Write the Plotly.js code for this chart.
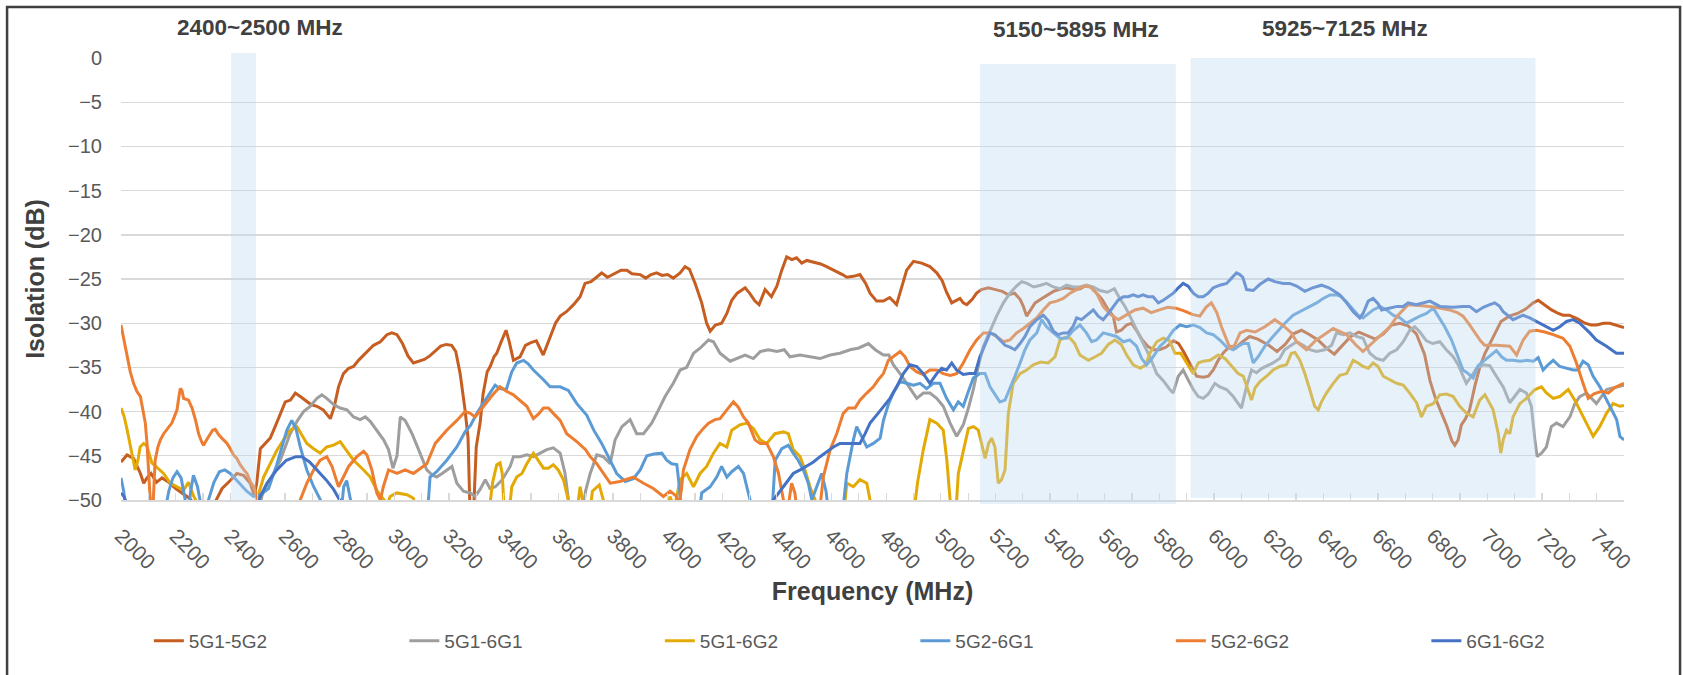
<!DOCTYPE html>
<html><head><meta charset="utf-8">
<script src="https://cdn.plot.ly/plotly-3.0.1.min.js"></script>
<style>html,body{margin:0;padding:0;background:#fff;overflow:hidden}#chart{width:1683px;height:675px}</style>
</head><body><div id="chart"></div>
<script>
// Series names (legend order)
const seriesNames = ["5G1-5G2","5G1-6G1","5G1-6G2","5G2-6G1","5G2-6G2","6G1-6G2"];
// Each series: [frequency MHz, isolation dB]
const s5G1_5G2 = [[2000,-45.7],[2022,-44.9],[2046,-45.3],[2060,-46.2],[2071,-47],[2083,-48.1],[2095,-47.5],[2110,-47],[2130,-48],[2150,-47.5],[2175,-48],[2200,-48.7],[2225,-49.2],[2250,-49.8],[2270,-50.5],[2300,-51],[2340,-50.5],[2370,-48.7],[2400,-47.8],[2424,-47],[2448,-47.2],[2473,-48.1],[2488,-49.5],[2497,-48],[2510,-44.2],[2528,-43.6],[2546,-43],[2564,-41.7],[2589,-39.8],[2601,-38.9],[2620,-38.7],[2638,-37.9],[2656,-38.3],[2674,-38.7],[2695,-39.2],[2717,-39.4],[2740,-39.8],[2766,-40.8],[2780,-39.5],[2796,-37.2],[2814,-35.7],[2833,-35.1],[2851,-34.9],[2869,-34.2],[2888,-33.6],[2906,-33],[2924,-32.5],[2949,-32.1],[2973,-31.3],[2991,-31.1],[3010,-31.3],[3030,-32.3],[3050,-33.7],[3070,-34.5],[3090,-34.3],[3110,-34.1],[3130,-33.7],[3150,-33.2],[3170,-32.6],[3190,-32.4],[3210,-32.5],[3225,-33.2],[3241,-35.7],[3259,-39.8],[3270,-43],[3276,-50],[3284,-56],[3292,-50],[3300,-44],[3314,-41.3],[3325,-38],[3340,-35.5],[3351,-34.9],[3365,-33.8],[3375,-33.4],[3390,-32.2],[3409,-30.8],[3420,-32],[3436,-34.2],[3460,-33.8],[3480,-32.5],[3500,-32.2],[3520,-32],[3545,-33.6],[3565,-32],[3590,-30],[3607,-29.2],[3630,-28.7],[3656,-27.9],[3680,-27],[3698,-25.5],[3720,-25.3],[3740,-24.8],[3759,-24.3],[3780,-24.8],[3800,-24.5],[3830,-24],[3851,-24],[3870,-24.4],[3900,-24.5],[3920,-24.9],[3940,-24.5],[3960,-24.3],[3980,-24.6],[4000,-24.5],[4021,-24.9],[4046,-24.3],[4064,-23.6],[4080,-23.9],[4101,-25.5],[4125,-27.7],[4143,-30],[4156,-30.9],[4175,-30.2],[4198,-30],[4217,-28.9],[4235,-27.4],[4255,-26.6],[4284,-26],[4300,-26.6],[4320,-27.5],[4335,-27.9],[4357,-26.2],[4380,-27],[4400,-25.8],[4418,-24],[4436,-22.5],[4455,-22.8],[4472,-22.6],[4491,-23.2],[4510,-22.9],[4535,-23.1],[4560,-23.3],[4582,-23.6],[4610,-24],[4640,-24.5],[4656,-24.8],[4680,-24.7],[4704,-24.5],[4725,-25.5],[4741,-26.6],[4765,-27.5],[4790,-27.5],[4813,-27.1],[4838,-27.9],[4855,-26],[4875,-24],[4900,-23],[4930,-23.2],[4960,-23.6],[4985,-24.3],[5005,-25.2],[5021,-26.5],[5040,-27.7],[5055,-27.4],[5070,-27.2],[5082,-27.7],[5095,-27.9],[5115,-27.3],[5131,-26.6],[5149,-26.2],[5174,-26],[5200,-26.2],[5225,-26.4],[5247,-26.8],[5270,-26.6],[5290,-27.3],[5302,-28.1],[5314,-29.2],[5330,-28.5],[5345,-27.7],[5370,-27.2],[5412,-26.4],[5440,-26.1],[5460,-26],[5490,-26.2],[5510,-26.1],[5533,-25.7],[5550,-25.9],[5570,-26.6],[5590,-27.3],[5613,-28.5],[5631,-29.2],[5643,-31],[5660,-30.8],[5680,-30.2],[5698,-30],[5716,-30.8],[5735,-31.8],[5757,-32.6],[5777,-33],[5800,-33],[5825,-32.7],[5851,-32],[5870,-32.3],[5888,-33.2],[5905,-34.2],[5924,-35.3],[5936,-36],[5960,-36.1],[5979,-36],[5997,-35.3],[6015,-34.2],[6035,-33.3],[6058,-32.6],[6080,-32.8],[6100,-32.2],[6130,-31.5],[6160,-31.8],[6200,-32.5],[6230,-33.2],[6260,-32.4],[6290,-31.2],[6320,-30.8],[6350,-31.3],[6380,-31.9],[6410,-32.8],[6440,-33.5],[6470,-32.5],[6500,-31.5],[6530,-31],[6560,-31.4],[6590,-31.8],[6620,-31.2],[6650,-30.2],[6680,-30],[6710,-30.3],[6740,-31.2],[6770,-33.5],[6790,-36.5],[6810,-38.5],[6830,-40],[6850,-41.5],[6870,-43.3],[6881,-43.8],[6893,-43.2],[6905,-41.5],[6920,-40.8],[6935,-39.8],[6955,-37],[6972,-35],[6990,-33.5],[7010,-32.3],[7030,-31],[7050,-29.8],[7080,-29.2],[7110,-28.9],[7140,-28.4],[7168,-27.7],[7186,-27.4],[7210,-27.9],[7235,-28.5],[7260,-28.9],[7277,-29.1],[7300,-29.1],[7330,-29.5],[7357,-30],[7380,-30.2],[7400,-30.2],[7425,-30],[7448,-30],[7470,-30.2],[7490,-30.4],[7500,-30.5]];
const s5G1_6G1 = [[2000,-56],[2480,-56],[2500,-52],[2516,-49.5],[2535,-48.2],[2558,-47],[2583,-45.5],[2601,-44],[2619,-42.5],[2644,-41.1],[2668,-40],[2692,-39.4],[2717,-38.5],[2735,-38.1],[2753,-38.5],[2778,-39.2],[2802,-39.6],[2827,-39.8],[2851,-40.6],[2875,-40.9],[2894,-40.6],[2912,-41.1],[2936,-42.1],[2961,-43.2],[2979,-44.3],[2995,-46.4],[3010,-45],[3022,-40.6],[3040,-41],[3065,-42.5],[3089,-44.3],[3119,-46.6],[3140,-47.2],[3155,-47.4],[3175,-47],[3192,-46.6],[3211,-46.2],[3229,-48.1],[3253,-49],[3278,-49.2],[3296,-49.6],[3314,-48.8],[3333,-47.7],[3350,-48.7],[3370,-48.5],[3395,-47.7],[3424,-46.2],[3436,-45.1],[3460,-45.1],[3485,-44.9],[3510,-45.1],[3534,-44.7],[3558,-44.3],[3582,-44.1],[3607,-44.7],[3625,-47],[3637,-49.6],[3650,-53],[3680,-53],[3700,-49],[3717,-47],[3741,-44.9],[3765,-45.1],[3790,-45.9],[3808,-43.2],[3833,-41.7],[3863,-40.9],[3887,-42.5],[3912,-42.5],[3942,-41.3],[3967,-39.8],[3991,-38.3],[4021,-36.8],[4046,-35.3],[4070,-35],[4095,-33.4],[4120,-32.8],[4150,-31.9],[4168,-32.1],[4192,-33.4],[4229,-34.3],[4255,-34],[4284,-33.6],[4314,-34],[4340,-33.2],[4369,-33],[4400,-33.2],[4427,-33],[4448,-33.8],[4485,-33.6],[4520,-33.8],[4558,-34],[4595,-33.6],[4631,-33.4],[4668,-33],[4700,-32.8],[4735,-32.3],[4760,-33],[4790,-33.6],[4810,-33.6],[4826,-34.7],[4851,-35.7],[4875,-36.8],[4912,-38.5],[4936,-37.9],[4960,-37.9],[4985,-38.5],[5009,-39.4],[5034,-41.3],[5058,-42.8],[5082,-41.5],[5101,-39.6],[5119,-37.5],[5137,-34.9],[5156,-32.6],[5180,-30.8],[5204,-29.2],[5229,-27.7],[5253,-26.6],[5277,-25.8],[5296,-25.3],[5315,-25.5],[5340,-25.9],[5365,-25.7],[5387,-25.5],[5412,-25.9],[5436,-26.1],[5460,-25.7],[5485,-25.9],[5510,-25.9],[5533,-25.7],[5558,-25.9],[5582,-26.3],[5610,-26.5],[5635,-26.1],[5655,-27.2],[5674,-28.1],[5692,-29.2],[5716,-30.7],[5741,-32.3],[5765,-33.8],[5790,-35.7],[5814,-36.5],[5838,-37.5],[5850,-37.9],[5869,-36],[5887,-35.3],[5905,-36.4],[5924,-37.5],[5942,-38.3],[5960,-38.5],[5979,-38],[6003,-36.8],[6021,-37.2],[6046,-37.5],[6070,-38.3],[6088,-39],[6100,-39.6],[6120,-37],[6137,-35.3],[6155,-35.6],[6175,-35.1],[6195,-34.8],[6216,-34.5],[6240,-34],[6258,-33],[6277,-32.6],[6302,-32.1],[6326,-32.5],[6350,-33],[6375,-33.2],[6405,-33],[6430,-32.5],[6448,-31.1],[6472,-31.3],[6497,-31.1],[6521,-31.5],[6545,-31.7],[6570,-33.4],[6594,-34],[6619,-34.2],[6643,-33.4],[6668,-33],[6692,-32.1],[6716,-30.8],[6734,-30.4],[6753,-31],[6777,-32],[6800,-32.3],[6826,-32.1],[6850,-33],[6875,-33.8],[6893,-34.7],[6911,-36],[6923,-36.8],[6942,-36],[6960,-35.1],[6985,-34.7],[7009,-34.8],[7033,-36],[7058,-37.2],[7082,-39],[7100,-38.3],[7119,-37.5],[7143,-37.9],[7161,-39.4],[7174,-43.2],[7182,-45.1],[7198,-44.7],[7216,-44],[7234,-41.7],[7253,-41.3],[7277,-41.7],[7302,-40.6],[7320,-39.1],[7338,-38.3],[7363,-37.9],[7399,-39.1],[7436,-37.5],[7472,-37.2],[7500,-37]];
const s5G1_6G2 = [[2000,-39.6],[2011,-40.5],[2022,-42],[2032,-43.5],[2040,-45],[2052,-46.6],[2062,-45.5],[2070,-44],[2083,-43.6],[2095,-43.9],[2113,-45.8],[2140,-46.6],[2156,-47],[2180,-48.1],[2205,-48.5],[2229,-48.9],[2247,-48],[2265,-49.5],[2290,-51],[2340,-53],[2400,-53],[2480,-52],[2497,-50],[2522,-47.4],[2546,-45.9],[2570,-44.4],[2595,-43.2],[2619,-42.1],[2644,-41.7],[2656,-42.3],[2680,-43.6],[2705,-44.2],[2729,-44.7],[2753,-44],[2778,-43.8],[2802,-43.4],[2820,-44.2],[2851,-45.5],[2888,-46.6],[2912,-47.4],[2936,-48.9],[2961,-50],[2975,-50.5],[2985,-49.6],[3009,-49.2],[3046,-49.4],[3070,-49.8],[3085,-52],[3340,-53],[3360,-48],[3375,-46],[3387,-45.8],[3395,-47],[3405,-53],[3415,-53],[3430,-48.5],[3448,-47.4],[3467,-47],[3485,-45.9],[3509,-44.7],[3527,-45.5],[3546,-46.4],[3564,-46.4],[3582,-46],[3600,-46.6],[3619,-47.7],[3637,-50],[3650,-53],[3670,-51],[3680,-48.5],[3692,-50.5],[3710,-53],[3725,-49],[3750,-48.3],[3765,-50],[3780,-53],[3990,-53],[4009,-49.6],[4025,-51],[4046,-47.7],[4070,-47],[4095,-48.5],[4119,-47],[4143,-46.2],[4168,-44.7],[4192,-43.6],[4217,-44],[4235,-42.1],[4265,-41.5],[4290,-41.3],[4314,-41.9],[4339,-43.2],[4363,-43.6],[4393,-42.5],[4424,-42.3],[4442,-42.5],[4460,-44.3],[4485,-45.1],[4503,-46.6],[4521,-48.5],[4540,-50],[4555,-53],[4640,-53],[4656,-48.1],[4680,-48.5],[4704,-47.7],[4729,-48.1],[4741,-50],[4755,-53],[4895,-53],[4915,-48],[4936,-44.3],[4960,-40.9],[4985,-41.3],[5009,-42.1],[5022,-45.5],[5034,-50],[5042,-54],[5052,-53],[5058,-50],[5064,-47],[5082,-44.5],[5101,-41.9],[5120,-41.7],[5137,-42.1],[5149,-43.6],[5162,-45.3],[5175,-43.6],[5186,-43],[5198,-44],[5210,-48.1],[5222,-47.7],[5235,-46.6],[5247,-40.2],[5265,-36.8],[5290,-35.7],[5314,-35.3],[5338,-34.7],[5365,-34.4],[5393,-34.5],[5418,-33.8],[5436,-31.9],[5455,-31.6],[5473,-31.7],[5490,-32.3],[5509,-33.6],[5540,-34.2],[5565,-33.8],[5588,-33.4],[5613,-32.4],[5637,-31.9],[5660,-32.4],[5680,-33.6],[5704,-34.7],[5730,-35.1],[5750,-34.7],[5765,-33.4],[5790,-32.1],[5814,-31.7],[5835,-31.9],[5857,-33.4],[5878,-33.4],[5899,-34.5],[5924,-35.7],[5942,-34.5],[5960,-34.3],[5985,-34.2],[6015,-33.6],[6040,-34],[6064,-34.9],[6088,-35.7],[6107,-36],[6125,-37.5],[6137,-38.7],[6150,-37.3],[6168,-36.6],[6192,-36],[6216,-35.3],[6240,-34.9],[6265,-34.7],[6283,-33.4],[6296,-33.3],[6314,-34.2],[6332,-35.7],[6350,-37.5],[6368,-39.4],[6381,-39.8],[6393,-38.9],[6411,-37.9],[6436,-36.8],[6460,-35.9],[6485,-35.7],[6509,-34.2],[6527,-34.5],[6545,-34.9],[6564,-35.1],[6582,-34.5],[6600,-34.9],[6619,-36],[6643,-36.4],[6668,-36.8],[6692,-37],[6716,-37.9],[6741,-39],[6759,-40.6],[6777,-39.4],[6802,-39.1],[6826,-38.1],[6850,-38],[6875,-38.3],[6899,-39.4],[6924,-40.2],[6948,-40.6],[6972,-38.7],[6991,-38.1],[7009,-39.1],[7021,-39.8],[7040,-42.5],[7049,-44.7],[7058,-43.2],[7070,-42.1],[7082,-42.5],[7094,-40.6],[7119,-39.1],[7143,-38.5],[7174,-37.5],[7198,-37.2],[7216,-37.9],[7241,-38.5],[7265,-38.3],[7296,-37.5],[7320,-38.7],[7350,-40.6],[7375,-42.1],[7387,-42.8],[7411,-41.7],[7436,-40.2],[7460,-39.1],[7485,-39.4],[7500,-39.3]];
const s5G2_6G1 = [[2000,-47.5],[2010,-49],[2020,-52],[2150,-53],[2175,-49],[2190,-47.5],[2205,-46.8],[2220,-47.5],[2235,-50],[2245,-52],[2255,-49],[2265,-47.2],[2280,-48.5],[2295,-51],[2310,-52],[2320,-50],[2340,-48],[2360,-46.8],[2380,-46.6],[2400,-47],[2430,-48],[2460,-49],[2485,-49.6],[2500,-49.5],[2515,-49.3],[2540,-48.7],[2570,-46],[2590,-44],[2607,-42.1],[2625,-41],[2640,-41.9],[2656,-44],[2680,-46.6],[2705,-48.5],[2730,-50],[2750,-53],[2800,-53],[2815,-48.5],[2826,-47.8],[2840,-50],[2850,-53],[3110,-53],[3125,-50],[3131,-47.4],[3155,-46.8],[3192,-45.5],[3229,-44],[3259,-42.3],[3280,-41.5],[3302,-40.2],[3339,-38.5],[3369,-37],[3387,-37.4],[3410,-37.5],[3430,-35.5],[3448,-34.5],[3473,-34.2],[3490,-34.6],[3509,-35.3],[3530,-35.9],[3546,-36.4],[3570,-37.2],[3607,-37.2],[3637,-37.6],[3668,-39.1],[3704,-40.4],[3730,-42.1],[3759,-43.6],[3790,-45.5],[3814,-47],[3845,-47.9],[3875,-47.6],[3900,-46.6],[3924,-45],[3950,-44.8],[3979,-44.7],[3997,-45.5],[4015,-45.9],[4034,-46],[4045,-49],[4052,-53],[4110,-53],[4125,-49.2],[4156,-48.5],[4180,-47.4],[4198,-46.2],[4217,-47.4],[4235,-46.8],[4259,-46.2],[4278,-47],[4290,-48.5],[4302,-50],[4312,-53],[4370,-53],[4385,-50],[4394,-45.5],[4418,-44.2],[4442,-43.8],[4460,-44.7],[4478,-45.5],[4497,-46.6],[4515,-48.1],[4528,-50],[4540,-49],[4564,-47],[4580,-49],[4595,-53],[4635,-53],[4656,-47],[4680,-43.2],[4692,-41.7],[4710,-42.8],[4729,-44],[4753,-43.6],[4778,-43],[4790,-41],[4808,-39.2],[4826,-37.9],[4851,-36.6],[4875,-36.8],[4900,-37],[4924,-36.8],[4948,-37.4],[4973,-36.8],[4997,-36.8],[5021,-38.5],[5046,-39.8],[5064,-38.9],[5082,-39.4],[5101,-37.7],[5119,-36.2],[5143,-35.7],[5162,-35.7],[5180,-37.2],[5198,-38.1],[5216,-38.9],[5235,-38.7],[5253,-37.4],[5271,-36],[5290,-34.5],[5308,-33],[5326,-31.9],[5351,-31.1],[5369,-29.6],[5387,-30.4],[5412,-31.1],[5436,-31.7],[5460,-31.7],[5485,-30.8],[5509,-30.2],[5533,-31.1],[5552,-32.1],[5570,-31.9],[5594,-31.1],[5619,-31.3],[5643,-31.5],[5668,-32.1],[5692,-31.9],[5716,-32.6],[5735,-34],[5753,-34.7],[5777,-33.8],[5802,-32.6],[5826,-31.9],[5851,-30.8],[5875,-30.2],[5899,-30.4],[5924,-30.2],[5948,-30.5],[5973,-31.1],[5997,-31.3],[6021,-31.9],[6046,-32.7],[6070,-33],[6094,-32.5],[6107,-32.3],[6125,-32.3],[6143,-34.5],[6161,-33.8],[6186,-32.6],[6210,-31.7],[6235,-30.8],[6259,-30],[6289,-29.1],[6326,-28.5],[6350,-28.1],[6375,-27.7],[6399,-27.2],[6424,-26.8],[6448,-26.8],[6466,-27],[6485,-27.6],[6509,-28.5],[6527,-29.1],[6545,-29.4],[6564,-28.9],[6582,-28.5],[6607,-28.1],[6631,-28.5],[6655,-29.1],[6680,-29.4],[6704,-30],[6728,-29.6],[6753,-29.2],[6777,-28.9],[6802,-28.3],[6820,-29.2],[6844,-30.4],[6869,-31.9],[6893,-33.8],[6911,-35.3],[6930,-35.7],[6948,-36.2],[6966,-34.8],[6990,-34.2],[7015,-33.6],[7033,-33.1],[7052,-33.8],[7070,-34.2],[7094,-34.2],[7119,-34.3],[7143,-34.2],[7168,-34.3],[7186,-33.9],[7204,-35.3],[7222,-34.7],[7241,-34.2],[7265,-34.9],[7290,-35.1],[7314,-35.3],[7332,-35.3],[7350,-34.3],[7369,-34.7],[7387,-36],[7412,-37.2],[7436,-38.7],[7454,-39.8],[7473,-40.9],[7485,-42.8],[7500,-43.2]];
const s5G2_6G2 = [[2000,-30.2],[2011,-31.9],[2022,-33.8],[2034,-35.5],[2046,-36.8],[2058,-37.7],[2071,-38.3],[2080,-39.6],[2089,-41.3],[2095,-43.5],[2101,-46.2],[2107,-50],[2112,-54],[2118,-50],[2125,-45.5],[2135,-44],[2144,-43.2],[2156,-42.5],[2168,-42],[2186,-41.3],[2195,-40.6],[2205,-39.8],[2212,-38.3],[2217,-37.4],[2223,-37.6],[2229,-38.5],[2247,-38.7],[2260,-39.6],[2273,-41],[2284,-42.5],[2295,-43.4],[2302,-43.8],[2313,-43.2],[2321,-42.8],[2335,-42.1],[2345,-42],[2357,-42.6],[2369,-43],[2388,-43.6],[2400,-44.2],[2412,-44.9],[2424,-45.3],[2436,-46],[2450,-46.6],[2461,-47],[2473,-47.9],[2485,-48.5],[2497,-49.6],[2505,-51],[2520,-53],[2640,-53],[2656,-50],[2680,-48.1],[2705,-46.6],[2729,-45.5],[2753,-45.1],[2772,-46.2],[2796,-48.5],[2814,-47.4],[2833,-46.2],[2863,-45.1],[2888,-44.5],[2900,-44.9],[2918,-46.6],[2936,-49.2],[2949,-50],[2960,-48.5],[2979,-46.6],[3010,-47],[3040,-46.6],[3070,-47],[3095,-46.4],[3119,-45.9],[3150,-43.6],[3192,-42.1],[3229,-41],[3259,-40],[3278,-40.2],[3296,-40.6],[3314,-39.9],[3339,-38.9],[3363,-38],[3387,-37.2],[3410,-37.7],[3436,-38.1],[3460,-38.7],[3485,-39.4],[3509,-40.8],[3530,-40.2],[3546,-39.6],[3564,-39.6],[3582,-40.2],[3607,-41],[3631,-42.5],[3668,-43.4],[3700,-44.3],[3717,-45.1],[3741,-45.9],[3765,-47],[3790,-48.1],[3826,-47.9],[3875,-47.4],[3912,-48.1],[3948,-48.7],[3985,-49.6],[4009,-49],[4030,-49.5],[4042,-50.5],[4050,-49],[4058,-46.6],[4082,-44.3],[4107,-42.8],[4131,-41.9],[4150,-41.3],[4174,-40.9],[4192,-40.8],[4217,-39.8],[4241,-38.9],[4259,-39.5],[4278,-40.6],[4296,-41.3],[4320,-43.2],[4339,-43.6],[4363,-43.6],[4387,-45.1],[4406,-47],[4424,-50],[4435,-53],[4445,-50],[4454,-48.1],[4466,-49.2],[4480,-53],[4550,-53],[4560,-50],[4570,-47.4],[4595,-44.3],[4619,-42.5],[4643,-40.2],[4662,-39.6],[4686,-39.6],[4704,-38.7],[4729,-37.9],[4753,-37.2],[4771,-36.4],[4790,-35.7],[4808,-34.2],[4826,-33.8],[4851,-33.2],[4869,-33.8],[4887,-34.9],[4912,-35.5],[4936,-35.8],[4960,-35.3],[4985,-35.3],[5009,-35.7],[5034,-35.9],[5058,-35.7],[5082,-34.5],[5107,-33],[5131,-31.9],[5156,-31.1],[5180,-31.1],[5204,-31.5],[5229,-32.1],[5253,-31.9],[5277,-31.1],[5302,-30.6],[5326,-30],[5351,-29.4],[5375,-28.5],[5399,-27.7],[5424,-27.5],[5448,-27.2],[5473,-26.6],[5497,-26.2],[5521,-25.8],[5546,-25.9],[5570,-26.6],[5594,-28.1],[5620,-29],[5650,-29.6],[5680,-29],[5710,-28.5],[5740,-28.3],[5770,-28.8],[5800,-28.5],[5830,-28.2],[5860,-28.3],[5890,-28.6],[5920,-29],[5948,-29.2],[5970,-28.2],[5990,-27.7],[6010,-28.8],[6027,-30.4],[6045,-31.8],[6058,-32.8],[6075,-32.5],[6095,-31.1],[6119,-30.8],[6150,-31],[6186,-30.4],[6222,-29.6],[6250,-30.2],[6283,-31.1],[6302,-32.1],[6338,-33],[6370,-32],[6411,-31.1],[6436,-30.6],[6485,-31.3],[6520,-32.5],[6545,-33.2],[6570,-32.5],[6600,-31.6],[6643,-30.4],[6670,-29.2],[6692,-28.5],[6710,-27.9],[6750,-28],[6789,-28.1],[6830,-28.3],[6862,-28.5],[6890,-28.8],[6911,-29.2],[6935,-30.2],[6954,-31.1],[6975,-32],[6990,-32.5],[7033,-32.5],[7082,-32.6],[7107,-33.6],[7131,-31.9],[7155,-30.9],[7180,-30.8],[7210,-31],[7241,-31.3],[7277,-31.7],[7302,-32.6],[7326,-34.5],[7350,-36.8],[7369,-38.5],[7390,-38],[7418,-37.7],[7442,-37.9],[7465,-37.3],[7485,-37],[7500,-36.8]];
const s6G1_6G2 = [[2000,-49.2],[2011,-49.6],[2022,-50.5],[2035,-53],[2480,-53],[2497,-50.5],[2510,-49.6],[2534,-48.1],[2570,-46.6],[2605,-45.5],[2640,-45.1],[2662,-45.1],[2690,-45.7],[2717,-46.6],[2750,-47.7],[2778,-48.8],[2800,-50],[2812,-53],[4370,-53],[4380,-50.3],[4395,-49.7],[4424,-48.5],[4460,-47],[4485,-46.6],[4509,-46.2],[4534,-45.7],[4558,-45.1],[4583,-44.5],[4607,-44],[4631,-43.6],[4656,-43.6],[4680,-43.6],[4704,-43.6],[4723,-42.5],[4741,-41.3],[4765,-40.4],[4790,-39.4],[4814,-38.5],[4838,-37.2],[4863,-35.7],[4887,-34.7],[4912,-34.9],[4936,-35.7],[4960,-36.8],[4985,-35.7],[5003,-35.1],[5021,-35.3],[5040,-34.5],[5058,-35.3],[5082,-35.8],[5105,-35.7],[5125,-35.7],[5143,-33.8],[5162,-32.3],[5180,-31.1],[5198,-31.3],[5216,-31.9],[5235,-32.5],[5253,-32.7],[5271,-33],[5290,-32.3],[5308,-31.5],[5326,-30.4],[5351,-29.6],[5375,-29.1],[5393,-29.7],[5412,-30.9],[5430,-31.3],[5448,-31.1],[5466,-31.1],[5485,-30.3],[5497,-29.4],[5515,-29.6],[5533,-29.1],[5558,-28.5],[5576,-29.2],[5594,-29.6],[5613,-28.9],[5631,-28.1],[5649,-27.4],[5668,-27],[5686,-27],[5704,-26.8],[5722,-27],[5740,-26.8],[5758,-27],[5777,-27],[5796,-27.7],[5814,-27.4],[5832,-27],[5851,-26.6],[5869,-26],[5887,-25.5],[5905,-25.8],[5924,-26.6],[5942,-27],[5960,-27],[5979,-26.6],[5997,-26],[6021,-25.7],[6046,-25.5],[6064,-24.9],[6082,-24.3],[6094,-24.5],[6105,-24.8],[6119,-26.2],[6143,-26.3],[6168,-25.6],[6198,-25],[6222,-25.3],[6253,-25.5],[6277,-25.5],[6302,-25.8],[6332,-26.4],[6360,-26],[6393,-25.7],[6420,-26],[6436,-26.3],[6460,-26.8],[6485,-27.7],[6509,-28.7],[6533,-29.4],[6545,-28.9],[6564,-27.5],[6582,-27.2],[6600,-27.8],[6613,-28.5],[6640,-28.3],[6670,-28.1],[6692,-28.1],[6710,-27.7],[6740,-27.9],[6765,-27.7],[6790,-27.5],[6826,-28.1],[6875,-28.2],[6911,-28.1],[6935,-28.1],[6960,-28.7],[6985,-28.2],[7009,-27.9],[7027,-27.7],[7045,-28.1],[7058,-28.7],[7094,-29.6],[7131,-29.1],[7155,-29.4],[7192,-30],[7241,-30.8],[7265,-30.4],[7290,-29.8],[7314,-29.6],[7338,-30],[7375,-31.1],[7399,-31.9],[7436,-32.6],[7472,-33.4],[7500,-33.4]];
const seriesData = [s5G1_5G2, s5G1_6G1, s5G1_6G2, s5G2_6G1, s5G2_6G2, s6G1_6G2];
const seriesColors = ["#C65D21","#9E9E9E","#E3AA05","#5B9BD5","#ED7D31","#4472C4"];
const bandTitles = ["2400~2500 MHz","5150~5895 MHz","5925~7125 MHz"];

const font = "Liberation Sans, Arial, sans-serif";
const traces = seriesData.map((s, i) => ({
  type: "scatter", mode: "lines", name: seriesNames[i],
  x: s.map(p => p[0]), y: s.map(p => p[1]),
  line: {color: seriesColors[i], width: 3},
  hoverinfo: "skip"
}));

const bandFill = "rgba(189,215,238,0.36)";
const shapes = [
  {type:"rect", xref:"x", yref:"paper", x0:2403, x1:2494, y0:0, y1:1.0113, fillcolor:bandFill, line:{width:0}, layer:"above"},
  {type:"rect", xref:"x", yref:"paper", x0:5143, x1:5860, y0:-0.009, y1:0.9864, fillcolor:bandFill, line:{width:0}, layer:"above"},
  {type:"rect", xref:"x", yref:"paper", x0:5914, x1:7176, y0:0.0045, y1:1.0, fillcolor:bandFill, line:{width:0}, layer:"above"},
  // chart frame
  {type:"rect", xref:"paper", yref:"paper", x0:-0.0758, x1:1.0373, y0:-0.5, y1:1.1154, line:{color:"#404040", width:2.5}, fillcolor:"rgba(0,0,0,0)", layer:"above"}
];

const annFont = {family: font, size: 22.5, color: "#404040", weight: "bold"};
const annotations = [
  {text: bandTitles[0], xref:"x", yref:"paper", x:2510, y:1.068, showarrow:false, font:annFont, xanchor:"center", yanchor:"middle"},
  {text: bandTitles[1], xref:"x", yref:"paper", x:5495, y:1.064, showarrow:false, font:annFont, xanchor:"center", yanchor:"middle"},
  {text: bandTitles[2], xref:"x", yref:"paper", x:6480, y:1.066, showarrow:false, font:annFont, xanchor:"center", yanchor:"middle"}
];

const layout = {
  width: 1683, height: 675,
  margin: {l: 121, r: 59, t: 58, b: 175, pad: 0, autoexpand: false},
  paper_bgcolor: "#ffffff", plot_bgcolor: "#ffffff",
  font: {family: font, color: "#595959"},
  showlegend: true,
  legend: {orientation: "h", x: 1.0385, xanchor: "right", y: -0.319, yanchor: "middle",
           font: {family: font, size: 19, color: "#595959"}, entrywidth: 210.5, entrywidthmode: "pixels",
           traceorder: "normal", bgcolor: "rgba(0,0,0,0)"},
  xaxis: {
    range: [2000, 7500], tickmode: "linear", tick0: 2000, dtick: 200,
    tickangle: 45, tickfont: {family: font, size: 21, color: "#595959"},
    ticks: "inside", ticklen: 7, tickcolor: "#D9D9D9", tickwidth: 1.3,
    minor: {dtick: 100, tick0: 2000, ticks: "inside", ticklen: 7, tickcolor: "#D9D9D9", tickwidth: 1.3, showgrid: false},
    showgrid: false, zeroline: false, showline: true, linecolor: "#D9D9D9", linewidth: 1.5,
    ticklabelstandoff: 14,
    title: {text: "Frequency (MHz)", font: {family: font, size: 25, color: "#404040", weight: "bold"}, standoff: 10},
    automargin: false
  },
  yaxis: {
    range: [-50, 0], tickmode: "linear", tick0: 0, dtick: 5,
    tickfont: {family: font, size: 20, color: "#595959"},
    showgrid: true, gridcolor: "#D9D9D9", gridwidth: 1.4, zeroline: false, showline: false,
    ticks: "", ticklabelstandoff: 18,
    title: {text: "Isolation (dB)", font: {family: font, size: 25, color: "#404040", weight: "bold"}, standoff: 16},
    automargin: false
  },
  shapes: shapes,
  annotations: annotations,
  hovermode: false
};

Plotly.newPlot("chart", traces, layout, {staticPlot: true, displayModeBar: false});
</script>
</body></html>
